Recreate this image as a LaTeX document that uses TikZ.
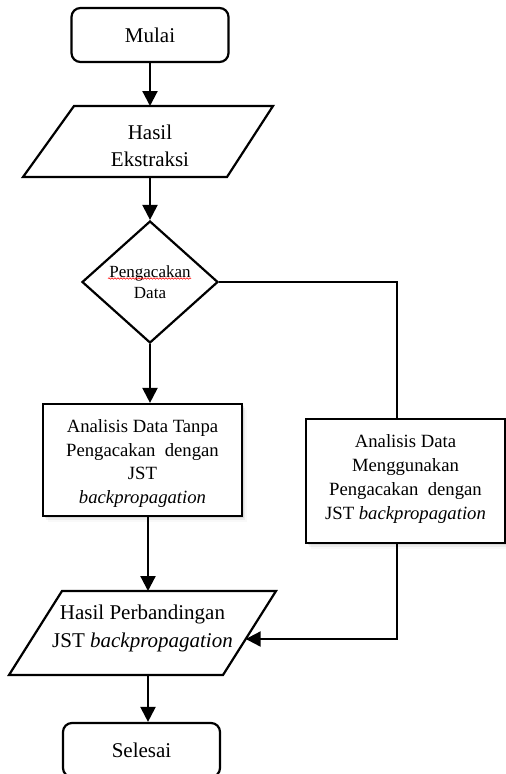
\documentclass[tikz,border=0pt]{standalone}
\usepackage{fontspec}
\setmainfont{Liberation Serif}
\usetikzlibrary{shapes.geometric,arrows.meta,shadows,decorations.pathmorphing}

\begin{document}
\begin{tikzpicture}[x=1pt,y=-1pt,
  flow/.style={line width=2.2pt},
  arrow/.style={flow,-{Triangle[length=15pt,width=15pt]}},
  terminal/.style={draw,flow,rounded corners=9pt,minimum width=157pt,
    minimum height=54pt,font=\fontsize{21}{26}\selectfont},
  process/.style={draw,flow,fill=white,minimum width=199pt,
    drop shadow={shadow xshift=1.5pt,shadow yshift=-2pt,opacity=.18},
    drop shadow={shadow xshift=3pt,shadow yshift=-4pt,opacity=.10},
    drop shadow={shadow xshift=4.5pt,shadow yshift=-6pt,opacity=.05}},
  boxtext/.style={align=center,inner sep=0pt,font=\fontsize{18.7}{23.7}\selectfont},
  iotext/.style={align=center,inner sep=0pt,font=\fontsize{21}{27.5}\selectfont},
  decision/.style={draw,flow,diamond,minimum width=136pt,minimum height=122pt,
    inner sep=0pt,align=center,font=\fontsize{17}{21}\selectfont},
  speller/.style={red,line width=0.6pt,decorate,
    decoration={snake,amplitude=0.7pt,segment length=3pt}}]

\useasboundingbox (0,0) rectangle (506,774);

% start
\node[terminal] (mulai) at (150,35) {Mulai};

% input: extraction result
\draw[flow] (74,106) -- (273,106) -- (227,177) -- (23,177) -- cycle;
\coordinate (ekTop) at (150,106);
\coordinate (ekBot) at (150,177);
\node[iotext] (ektext) at (150,146) {Hasil\\Ekstraksi};

% decision: shuffle the data?
\node[decision] (acak) at (150,282) {Pengacakan\\Data};
\draw[speller] (108,278.5) -- (191,278.5);

% left branch: without shuffling
\node[process,minimum height=112pt] (lbox) at (142.5,460) {};
\begin{scope}
  \clip ([yshift=10pt]lbox.south west) rectangle (lbox.north east);
  \node[boxtext] (ltext) at (142.5,463.5)
    {Analisis Data Tanpa\\Pengacakan\ \ dengan\\JST\\\textit{backpropagation}};
\end{scope}

% right branch: with shuffling
\node[process,minimum height=124pt] (rbox) at (405.5,481) {};
\node[boxtext] (rtext) at (405.5,479)
  {Analisis Data\\Menggunakan\\Pengacakan\ \ dengan\\JST \textit{backpropagation}};

% output: comparison
\draw[flow] (62,591) -- (276,591) -- (223,675) -- (9,675) -- cycle;
\coordinate (hpTop) at (148,591);
\coordinate (hpBot) at (148,675);
\coordinate (hpIn) at (245.7,639);
\node[iotext] (hptext) at (142.5,628.5)
  {Hasil Perbandingan\\JST \textit{backpropagation}};

% end
\node[terminal] (selesai) at (141.5,750) {Selesai};

% connectors
\coordinate (cornerA) at (397,282);
\coordinate (cornerB) at (397,639);
\draw[arrow] (mulai.south) -- (ekTop);
\draw[arrow] (ekBot) -- (acak.north);
\draw[arrow] (acak.south) -- (acak.south |- lbox.north);
\draw[flow] (acak.east) -- (cornerA) -- (cornerA |- rbox.north);
\draw[arrow] (hpTop |- lbox.south) -- (hpTop);
\draw[arrow] (cornerA |- rbox.south) -- (cornerB) -- (hpIn);
\draw[arrow] (hpBot) -- (hpBot |- selesai.north);
\end{tikzpicture}
\end{document}
